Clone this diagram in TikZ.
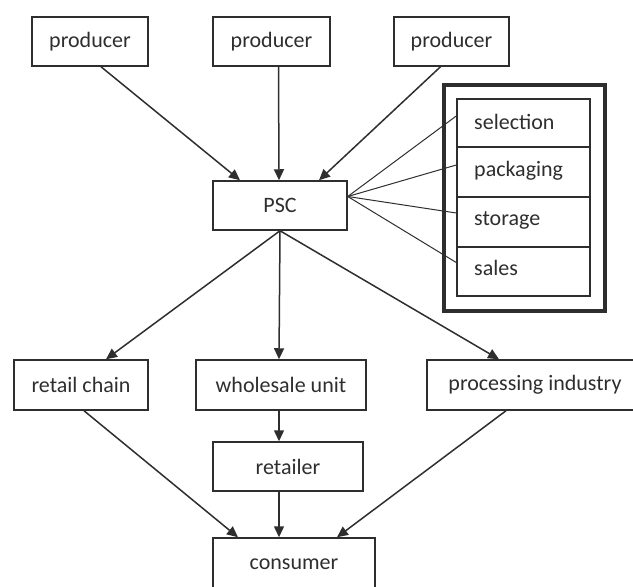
\documentclass[tikz,border=0pt]{standalone}
\usepackage{fontspec}
\setmainfont{Carlito}
\usetikzlibrary{arrows.meta,calc}
\definecolor{ink}{HTML}{2E2E2E}
\tikzset{
  box/.style={draw=ink,line width=1.5pt,inner sep=0pt,text=ink,font=\fontsize{22}{26}\selectfont},
  arr/.style={draw=ink,line width=1.5pt,-{Triangle[length=11pt,width=10pt]}},
  fan/.style={draw=ink,line width=1pt},
  sub/.style={draw=ink,line width=1.5pt,inner sep=0pt,minimum width=133pt},
  lbl/.style={anchor=west,inner sep=0pt,text=ink,font=\fontsize{22}{26}\selectfont}
}
\begin{document}
\begin{tikzpicture}[x=1pt,y=-1pt]
\useasboundingbox (0,0) rectangle (633,587);
\node[box,minimum width=116pt,minimum height=49pt] (p1) at (90,41.5) {producer};
\node[box,minimum width=117pt,minimum height=49pt] (p2) at (271.5,41.5) {producer};
\node[box,minimum width=115pt,minimum height=49pt] (p3) at (451.5,41.5) {producer};
\node[box,minimum width=134pt,minimum height=49pt] (psc) at (280,205.5) {PSC};
\node[box,minimum width=134pt,minimum height=50pt] (rc) at (81,385) {retail chain};
\node[box,minimum width=170pt,minimum height=50pt] (wu) at (281,385) {wholesale unit};
\node[box,minimum width=216pt,minimum height=50pt] (pi) at (535,385) {processing industry};
\node[box,minimum width=150pt,minimum height=49pt] (rt) at (288,466.5) {retailer};
\node[box,minimum width=162pt,minimum height=52pt] (cs) at (294,564) {consumer};
% services frame
\node[draw=ink,line width=4pt,minimum width=161pt,minimum height=226pt,inner sep=0pt] (frame) at (524.5,198) {};
\node[sub,minimum height=48pt] (sel) at (523.5,123) {};
\node[sub,minimum height=50pt] (pac) at (523.5,172) {};
\node[sub,minimum height=50pt] (sto) at (523.5,222) {};
\node[sub,minimum height=49pt] (sal) at (523.5,271.5) {};
\node[lbl] (tsel) at (474,122) {selection};
\node[lbl] (tpac) at (474,171) {packaging};
\node[lbl] (tsto) at (474,220) {storage};
\node[lbl] (tsal) at (474,268) {sales};
% fan lines
\coordinate (fo) at ($(psc.east)+(0,-9)$);
\draw[fan] (fo) -- ($(sel.west)+(0,-7)$);
\draw[fan] (fo) -- ($(pac.west)+(0,-7)$);
\draw[fan] (fo) -- ($(sto.west)+(0,-9)$);
\draw[fan] (fo) -- ($(sal.west)+(0,-9)$);
% arrows
\draw[arr] ($(p1.south)+(11,0)$) -- ($(psc.north)+(-40,0)$);
\draw[arr] ($(p2.south)+(7,0)$) -- ($(psc.north)+(-1,0)$);
\draw[arr] ($(p3.south)+(-11,0)$) -- ($(psc.north)+(39,0)$);
\draw[arr] (psc.south) -- ($(rc.north)+(25,0)$);
\draw[arr] (psc.south) -- ($(wu.north)+(-2,0)$);
\draw[arr] (psc.south) -- ($(pi.north)+(-36,0)$);
\draw[arr] ($(rc.south)+(3,0)$) -- ($(cs.north)+(-56,0)$);
\draw[arr] ($(wu.south)+(-2,0)$) -- ($(rt.north)+(-9,0)$);
\draw[arr] ($(rt.south)+(-9,0)$) -- ($(cs.north)+(-15,0)$);
\draw[arr] ($(pi.south)+(-29,0)$) -- ($(cs.north)+(43,0)$);
\end{tikzpicture}
\end{document}
